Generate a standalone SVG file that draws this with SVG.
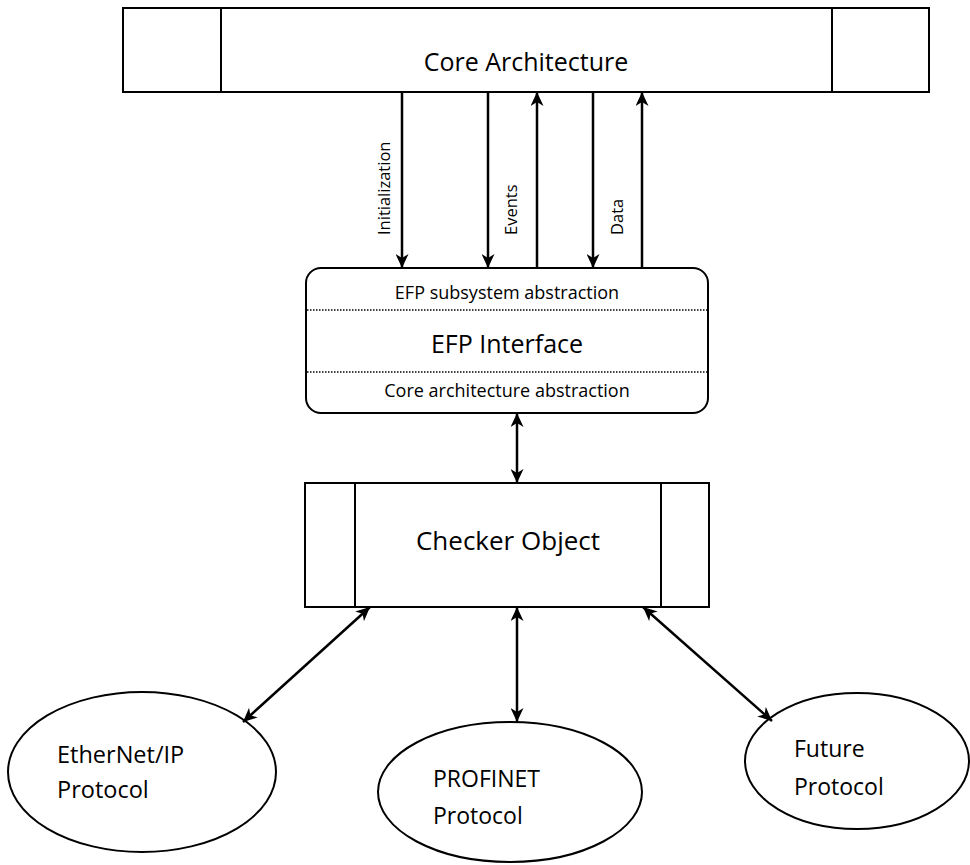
<svg xmlns="http://www.w3.org/2000/svg" width="970" height="865" viewBox="0 0 970 865">
  <style>
    .box { fill: #ffffff; stroke: #000000; stroke-width: 2; }
    .div { fill: none; stroke: #000000; stroke-width: 2; }
    .dot { fill: none; stroke: #000000; stroke-width: 1.5; stroke-dasharray: 1.5 1.5; }
    .con { fill: none; stroke: #000000; stroke-width: 2.5; }
    text { font-family: "Open Sans", "Noto Sans", "Liberation Sans", sans-serif; fill: #000000; }
    .lbl { font-size: 16.5px; }
    .mid { text-anchor: middle; }
  </style>
  <defs>
    <marker id="arr" viewBox="0 0 14 13" refX="14" refY="6.5" markerWidth="14" markerHeight="13" markerUnits="userSpaceOnUse" orient="auto-start-reverse">
      <path d="M0,0 L14,6.5 L0,13 L4,6.5 z" fill="#000000"/>
    </marker>
  </defs>
  <rect width="970" height="865" fill="#ffffff"/>

  <g id="core-architecture">
    <rect class="box" x="123" y="8" width="806" height="84"/>
    <line class="div" x1="221" y1="8" x2="221" y2="92"/>
    <line class="div" x1="832" y1="8" x2="832" y2="92"/>
    <text class="mid" x="526" y="71" font-size="25">Core Architecture</text>
  </g>

  <g id="efp-interface">
    <rect class="box" x="306" y="268" width="402" height="145" rx="15" ry="15"/>
    <line class="dot" x1="307" y1="310" x2="707" y2="310"/>
    <line class="dot" x1="307" y1="372" x2="707" y2="372"/>
    <text class="mid" x="507" y="299" font-size="18">EFP subsystem abstraction</text>
    <text class="mid" x="507" y="353" font-size="25">EFP Interface</text>
    <text class="mid" x="507" y="397" font-size="18">Core architecture abstraction</text>
  </g>

  <g id="checker-object">
    <rect class="box" x="305" y="483" width="404" height="124"/>
    <line class="div" x1="355" y1="483" x2="355" y2="607"/>
    <line class="div" x1="661" y1="483" x2="661" y2="607"/>
    <text class="mid" x="508" y="550" font-size="26">Checker Object</text>
  </g>

  <g id="ethernet-ip">
    <ellipse class="box" cx="142" cy="772" rx="134" ry="80"/>
    <text x="57" y="763" font-size="23.5">EtherNet/IP</text>
    <text x="57" y="798" font-size="23.5">Protocol</text>
  </g>

  <g id="profinet">
    <ellipse class="box" cx="510" cy="792" rx="132" ry="70"/>
    <text x="433" y="787" font-size="23">PROFINET</text>
    <text x="433" y="824" font-size="23">Protocol</text>
  </g>

  <g id="future">
    <ellipse class="box" cx="857" cy="761" rx="112" ry="68"/>
    <text x="794" y="757" font-size="23">Future</text>
    <text x="794" y="795" font-size="23">Protocol</text>
  </g>

  <g id="connectors">
    <line class="con" x1="402" y1="92" x2="402" y2="268" marker-end="url(#arr)"/>
    <line class="con" x1="488" y1="92" x2="488" y2="268" marker-end="url(#arr)"/>
    <line class="con" x1="537" y1="268" x2="537" y2="92" marker-end="url(#arr)"/>
    <line class="con" x1="593" y1="92" x2="593" y2="268" marker-end="url(#arr)"/>
    <line class="con" x1="642" y1="268" x2="642" y2="92" marker-end="url(#arr)"/>
    <line class="con" x1="517" y1="413" x2="517" y2="483" marker-start="url(#arr)" marker-end="url(#arr)"/>
    <line class="con" x1="370" y1="607" x2="243" y2="722" marker-start="url(#arr)" marker-end="url(#arr)"/>
    <line class="con" x1="517" y1="607" x2="517" y2="722" marker-start="url(#arr)" marker-end="url(#arr)"/>
    <line class="con" x1="643" y1="607" x2="772" y2="721" marker-start="url(#arr)" marker-end="url(#arr)"/>
    <text class="lbl" transform="translate(390 235) rotate(-90)">Initialization</text>
    <text class="lbl" transform="translate(517 235) rotate(-90)">Events</text>
    <text class="lbl" transform="translate(623 235) rotate(-90)">Data</text>
  </g>
</svg>
